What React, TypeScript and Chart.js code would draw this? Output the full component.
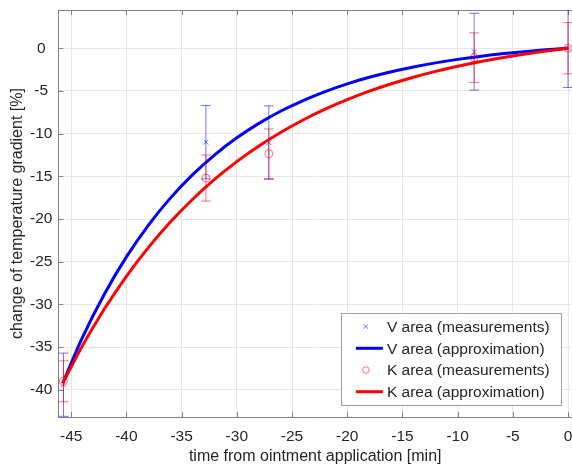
import React, { useEffect, useRef } from "react";
import { Chart, registerables } from "chart.js";

Chart.register(...registerables);

// Measurement times [min] and mean change of temperature gradient [%]
const measTimes = [-45.7, -32.8, -27.1, -8.5, 0];
const vMeas = [-39.4, -11.0, -11.05, -0.4, 0];
const vErr = [3.7, 4.3, 4.3, 4.5, 4.6];
const kMeas = [-39.0, -15.2, -12.35, -1.1, 0];
const kErr = [2.4, 2.7, 2.9, 2.9, 3.0];

// Exponential approximation curves, sampled along the time axis
const approxTimes = [-45.76, -44, -42, -40, -38, -36, -34, -32, -30, -28, -26, -24, -22, -20, -18, -16, -14, -12, -10, -8, -6, -4, -2, 0];
const vApprox = [-39.2, -33.91, -28.8, -24.43, -20.7, -17.52, -14.8, -12.48, -10.49, -8.8, -7.35, -6.12, -5.07, -4.17, -3.4, -2.75, -2.19, -1.71, -1.3, -0.953, -0.656, -0.402, -0.185, 0];
const kApprox = [-39.2, -34.88, -30.53, -26.7, -23.32, -20.32, -17.68, -15.33, -13.27, -11.44, -9.83, -8.4, -7.13, -6.02, -5.03, -4.16, -3.39, -2.71, -2.11, -1.577, -1.107, -0.692, -0.325, 0];

const xTickValues = [-45, -40, -35, -30, -25, -20, -15, -10, -5, 0];
const yTickValues = [-40, -35, -30, -25, -20, -15, -10, -5, 0];

const TEXT = "#262626";
const AXIS = "#808080";
const GRID = "#e6e6e6";
const FONT = "'Liberation Sans', Arial, Helvetica, sans-serif";
const V_LIGHT = "rgba(0,0,255,0.55)";
const K_LIGHT = "rgba(255,0,0,0.55)";

const toPoints = (xs: number[], ys: number[]) => xs.map((x, i) => ({ x, y: ys[i] }));

// Vertical error bars with caps, drawn just before their marker dataset
const errorBarPlugin = {
  id: "errorBars",
  beforeDatasetDraw(chart: any, args: any) {
    const ds = chart.data.datasets[args.index];
    if (!ds.errors) return;
    const { ctx, chartArea } = chart;
    const xs = chart.scales.x;
    const ys = chart.scales.y;
    ctx.save();
    ctx.beginPath();
    ctx.rect(chartArea.left, chartArea.top, chartArea.right - chartArea.left, chartArea.bottom - chartArea.top);
    ctx.clip();
    ctx.strokeStyle = ds.borderColor;
    ctx.lineWidth = 1;
    ds.data.forEach((p: any, i: number) => {
      const e = ds.errors[i];
      const px = xs.getPixelForValue(p.x);
      const top = ys.getPixelForValue(p.y + e);
      const bot = ys.getPixelForValue(p.y - e);
      ctx.beginPath();
      ctx.moveTo(px, top);
      ctx.lineTo(px, bot);
      ctx.moveTo(px - 5, top);
      ctx.lineTo(px + 5, top);
      ctx.moveTo(px - 5, bot);
      ctx.lineTo(px + 5, bot);
      ctx.stroke();
    });
    ctx.restore();
  },
};

// Box outline on the top edge and inward tick marks
const axesBoxPlugin = {
  id: "axesBox",
  beforeDatasetsDraw(chart: any) {
    const { ctx, chartArea } = chart;
    const xs = chart.scales.x;
    const ys = chart.scales.y;
    ctx.save();
    ctx.strokeStyle = AXIS;
    ctx.lineWidth = 1;
    ctx.beginPath();
    ctx.moveTo(chartArea.left, chartArea.top + 0.5);
    ctx.lineTo(chartArea.right, chartArea.top + 0.5);
    xTickValues.forEach((v) => {
      const px = Math.round(xs.getPixelForValue(v)) + 0.5;
      ctx.moveTo(px, chartArea.bottom);
      ctx.lineTo(px, chartArea.bottom - 5);
      ctx.moveTo(px, chartArea.top);
      ctx.lineTo(px, chartArea.top + 5);
    });
    yTickValues.forEach((v) => {
      const py = Math.round(ys.getPixelForValue(v)) + 0.5;
      ctx.moveTo(chartArea.left, py);
      ctx.lineTo(chartArea.left + 5, py);
    });
    ctx.stroke();
    ctx.restore();
  },
};

// Legend box in the lower right corner of the plot area
const legendBoxPlugin = {
  id: "legendBox",
  afterDraw(chart: any) {
    const { ctx, chartArea } = chart;
    const datasets = chart.data.datasets;
    ctx.save();
    ctx.font = `15.5px ${FONT}`;
    const textW = Math.max(...datasets.map((d: any) => ctx.measureText(d.label).width));
    const rowH = 21.7;
    const textLeft = 46;
    const w = textLeft + textW + 11;
    const h = 14 + rowH * (datasets.length - 1) + 13.3;
    const right = chartArea.right - 11.3;
    const bottom = chartArea.bottom - 12;
    const left = right - w;
    const top = bottom - h;
    ctx.fillStyle = "#ffffff";
    ctx.fillRect(left, top, w, h);
    ctx.strokeStyle = "#a0a0a0";
    ctx.lineWidth = 1;
    ctx.strokeRect(Math.round(left) + 0.5, Math.round(top) + 0.5, Math.round(w), Math.round(h));
    datasets.forEach((d: any, i: number) => {
      const cy = top + 14 + rowH * i;
      if (d.showLine) {
        ctx.strokeStyle = d.borderColor;
        ctx.lineWidth = d.borderWidth;
        ctx.beginPath();
        ctx.moveTo(left + 15, cy);
        ctx.lineTo(left + 42, cy);
        ctx.stroke();
      } else {
        const cx = left + 25;
        ctx.strokeStyle = d.borderColor;
        ctx.lineWidth = 1;
        ctx.beginPath();
        if (d.pointStyle === "crossRot") {
          const r = 2.3;
          ctx.moveTo(cx - r, cy - r);
          ctx.lineTo(cx + r, cy + r);
          ctx.moveTo(cx - r, cy + r);
          ctx.lineTo(cx + r, cy - r);
        } else {
          ctx.arc(cx, cy, 3.3, 0, Math.PI * 2);
        }
        ctx.stroke();
      }
      ctx.fillStyle = TEXT;
      ctx.textAlign = "left";
      ctx.textBaseline = "middle";
      ctx.fillText(d.label, left + textLeft, cy + 1);
    });
    ctx.restore();
  },
};

export default function App() {
  const canvasRef = useRef<HTMLCanvasElement | null>(null);

  useEffect(() => {
    if (!canvasRef.current) return;
    Chart.defaults.font.family = FONT;
    const chart = new Chart(canvasRef.current, {
      type: "scatter",
      data: {
        datasets: [
          {
            type: "scatter",
            label: "V area (measurements)",
            data: toPoints(measTimes, vMeas),
            errors: vErr,
            pointStyle: "crossRot",
            pointRadius: 3.4,
            borderColor: V_LIGHT,
            backgroundColor: "rgba(0,0,0,0)",
            borderWidth: 1,
            showLine: false,
            order: 4,
          } as any,
          {
            type: "line",
            label: "V area (approximation)",
            data: toPoints(approxTimes, vApprox),
            borderColor: "#0000ff",
            borderWidth: 3,
            pointRadius: 0,
            showLine: true,
            fill: false,
            cubicInterpolationMode: "monotone",
            order: 3,
          },
          {
            type: "scatter",
            label: "K area (measurements)",
            data: toPoints(measTimes, kMeas),
            errors: kErr,
            pointStyle: "circle",
            pointRadius: 4,
            borderColor: K_LIGHT,
            backgroundColor: "rgba(0,0,0,0)",
            borderWidth: 1,
            showLine: false,
            order: 2,
          } as any,
          {
            type: "line",
            label: "K area (approximation)",
            data: toPoints(approxTimes, kApprox),
            borderColor: "#ff0000",
            borderWidth: 3,
            pointRadius: 0,
            showLine: true,
            fill: false,
            cubicInterpolationMode: "monotone",
            order: 1,
          },
        ],
      },
      options: {
        responsive: false,
        animation: false,
        layout: { autoPadding: false, padding: { top: 10, right: 0, left: 0, bottom: 0 } },
        plugins: {
          legend: { display: false },
          tooltip: { enabled: false },
        },
        scales: {
          x: {
            type: "linear",
            min: -46.16,
            max: 0.36,
            afterBuildTicks: (s: any) => {
              s.ticks = xTickValues.map((value) => ({ value }));
            },
            afterFit: (s: any) => {
              s.height = 48;
              s.paddingLeft = 0;
              s.paddingRight = 0;
            },
            grid: { color: GRID, drawTicks: false },
            border: { color: AXIS },
            ticks: { color: TEXT, font: { size: 15.5 }, padding: 10, maxRotation: 0, autoSkip: false },
            title: {
              display: true,
              text: "time from ointment application [min]",
              color: TEXT,
              font: { size: 16, lineHeight: 1.1 },
              padding: { top: 0, bottom: 0 },
            },
          },
          y: {
            type: "linear",
            min: -43.18,
            max: 4.48,
            afterBuildTicks: (s: any) => {
              s.ticks = yTickValues.map((value) => ({ value }));
            },
            afterFit: (s: any) => {
              s.width = 58.4;
              s.paddingTop = 0;
              s.paddingBottom = 0;
            },
            grid: { color: GRID, drawTicks: false },
            border: { color: AXIS },
            ticks: { color: TEXT, font: { size: 15.5 }, padding: 6, crossAlign: "center", autoSkip: false },
            title: {
              display: true,
              text: "change of temperature gradient [%]",
              color: TEXT,
              font: { size: 16 },
              padding: { top: 8, bottom: 0 },
            },
          },
        },
      },
      plugins: [errorBarPlugin, axesBoxPlugin, legendBoxPlugin],
    } as any);
    return () => chart.destroy();
  }, []);

  return (
    <div style={{ position: "fixed", left: 0, top: 0, width: 572, height: 465, background: "#ffffff" }}>
      <canvas ref={canvasRef} width={572} height={465} style={{ display: "block" }} />
    </div>
  );
}
